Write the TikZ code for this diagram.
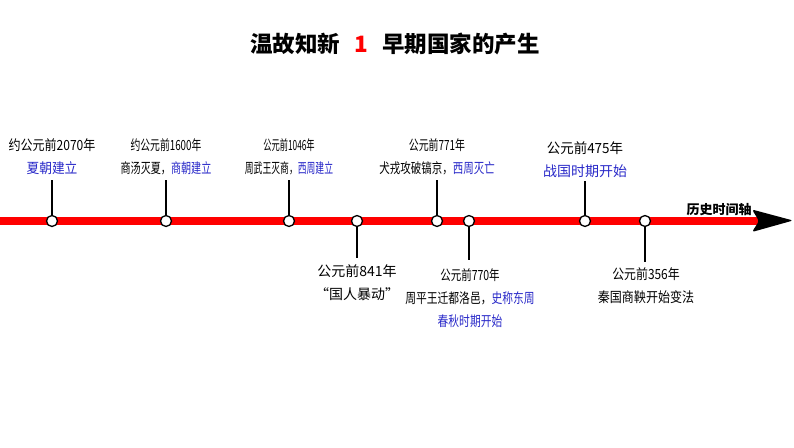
\documentclass[tikz,border=0pt]{standalone}
\usepackage{fontspec}
\setmainfont{Noto Sans CJK SC}
\definecolor{evblue}{RGB}{40,40,200}
\newcommand{\hsq}[2]{\scalebox{#1}[1]{#2}}
\begin{document}
\begin{tikzpicture}[x=1pt,y=-1pt,
  lab/.style={font=\fontsize{14}{23}\selectfont,align=center,inner sep=0pt},
  dot/.style={circle,draw=black,fill=white,line width=1.3pt,minimum size=11pt,inner sep=0pt},
  stem/.style={draw=black,line width=1.1pt},
  bl/.style={color=evblue}
  ]
\useasboundingbox (0,0) rectangle (794,447);

% title
\node (title) at (395,44) {\fontsize{22.5}{27}\selectfont\bfseries 温故知新\hspace{14pt}{\color{red}1}\hspace{14pt}早期国家的产生};

% axis
\coordinate (ax0) at (0,221);
\coordinate (ax1) at (758,221);
\draw[red,line width=8pt] (ax0) -- (ax1);
\fill[black,rounded corners=2.5pt] (752,209.5) -- (793,220.5) -- (752,232) -- (759,221) -- cycle;
\node[font=\fontsize{13}{15}\selectfont\bfseries,inner sep=0pt] (axl) at (719,210) {历史时间轴};

% stem ends
\coordinate (t1) at (52,180);
\coordinate (t2) at (166,180);
\coordinate (t3) at (289,180);
\coordinate (t4) at (437,180);
\coordinate (t5) at (585,181);
\coordinate (b6) at (357,258);
\coordinate (b7) at (469,260);
\coordinate (b8) at (645,262);

% dots
\node[dot] (d1) at (52,221) {};
\node[dot] (d2) at (166,221) {};
\node[dot] (d3) at (289,221) {};
\node[dot] (d6) at (357,221) {};
\node[dot] (d4) at (437,221) {};
\node[dot] (d7) at (469,221) {};
\node[dot] (d5) at (585,221) {};
\node[dot] (d8) at (645,221) {};

% stems
\draw[stem] (d1) -- (t1);
\draw[stem] (d2) -- (t2);
\draw[stem] (d3) -- (t3);
\draw[stem] (d4) -- (t4);
\draw[stem] (d5) -- (t5);
\draw[stem] (d6) -- (b6);
\draw[stem] (d7) -- (b7);
\draw[stem] (d8) -- (b8);

% top labels
\node[lab] (l1) at (52,156.5) {\hsq{0.86}{约公元前2070年}\\\hsq{0.91}{\color{evblue}夏朝建立}};
\node[lab] (l2) at (166,156.5) {\hsq{0.70}{约公元前1600年}\\\hsq{0.72}{商汤灭夏，{\color{evblue}商朝建立}}};
\node[lab] (l3) at (289,157) {\hsq{0.59}{公元前1046年}\\\hsq{0.63}{周武王灭商，{\color{evblue}西周建立}}};
\node[lab] (l4) at (437,157) {\hsq{0.71}{公元前771年}\\\hsq{0.75}{犬戎攻破镐京，{\color{evblue}西周灭亡}}};
\node[lab] (l5) at (585,160) {\hsq{0.96}{公元前475年}\\{\color{evblue}战国时期开始}};

% bottom labels
\node[lab] (l6) at (357,282.5) {公元前841年\\“国人暴动”};
\node[lab] (l7) at (470,298.5) {\hsq{0.75}{公元前770年}\\\hsq{0.77}{周平王迁都洛邑，{\color{evblue}史称东周}}\\\hsq{0.77}{\color{evblue}春秋时期开始}};
\node[lab] (l8) at (646,285.5) {\hsq{0.85}{公元前356年}\\\hsq{0.86}{秦国商鞅开始变法}};
\end{tikzpicture}
\end{document}
